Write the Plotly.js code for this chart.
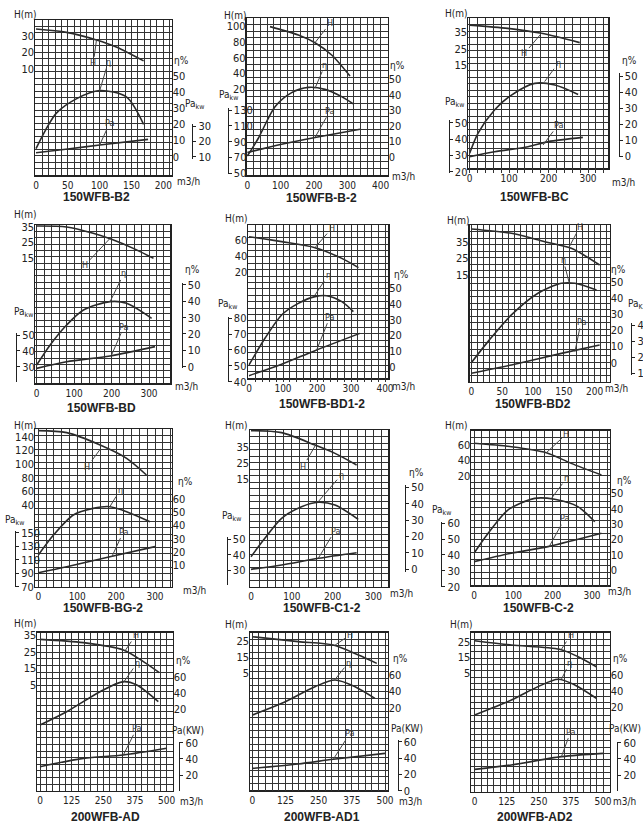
<!DOCTYPE html>
<html><head><meta charset="utf-8">
<script src="https://cdn.plot.ly/plotly-3.0.1.min.js"></script>
<style>html,body{margin:0;padding:0;background:#fff}#c{width:643px;height:834px}</style>
</head><body><div id="c"></div>
<script>
// ---------- DATA ----------
const titles = ['150WFB-B2','150WFB-B-2','150WFB-BC','150WFB-BD','150WFB-BD1-2','150WFB-BD2',
  '150WFB-BG-2','150WFB-C1-2','150WFB-C-2','200WFB-AD','200WFB-AD1','200WFB-AD2'];

const headQ = [[0,48,95,127,169],[68,153,203,253,308],[0,97,182,279],[0,80,151,200,258,312],
  [0,96,194,273,322],[0,65,119,162,208],[0,73,159,227,278],[0,75,157,206,259],
  [0,95,184,247,324],[0,171,329,408,471],[0,173,305,400,469],[0,143,331,403,474]];
const headH = [[34.2,32.2,27.6,23.2,14.9],[99.2,88.6,78.9,63.4,36.8],[39.4,37.4,34.4,28.7],
  [35.4,34.8,30.8,27,21.3,15],[64.2,57.9,50.3,36.8,25.1],[42.6,40,35,31,21],
  [148.8,145.9,127.8,108.3,83.9],[44.8,43.6,36,30.9,23.8],[62.2,57.8,50.1,36.3,21.3],
  [32.4,30.4,26,19,12.4],[27.4,24.4,22.3,16.2,11.1],[25.6,22.9,20.2,15.5,9.2]];

const effQ = [[0,15,32,64,100,142,169],[0,33,83,133,183,233,283,318],[0,21,63,106,165,216,275],
  [0,36,80,125,196,240,307],[0,47,96,145,194,228,273,307],[0,27,65,108,146,168,203],
  [0,39,90,141,184,227,287],[0,34,75,124,165,206,263],[0,36,86,154,205,264,307],
  [0,105,237,329,382,467],[0,111,236,312,387,462],[0,143,247,325,390,474]];
const effEta = [[5,16.5,27,36,41,37,20],[0.4,11.9,32.3,41.4,44.8,43.5,38.8,34.1],
  [1.7,14.2,28.8,38.1,45.4,44.4,38.5],[1,13.3,25.5,34.7,39.8,38.8,29.6],
  [1.1,18.1,33,40.4,44.7,45.3,41.5,35.1],[0,13.1,29.7,43.2,49.4,49.4,45.2],
  [17.6,32.8,48.1,53.1,54.4,50.6,43],[7.7,18.9,31.1,38.2,40.9,39.2,30.5],
  [10.9,23.9,39.1,46.7,46.1,41.3,31.5],[0.8,17.1,41.6,53.9,49.8,29.4],
  [11,25.3,45.7,53.9,45.7,31.4],[10.6,29.1,45.6,54.7,47.7,31.2]];

const powQ = [[0,50,100,176],[0,103,203,338],[0,63,148,199,287],[0,80,196,316],[0,96,194,326],
  [0,65,146,208],[0,73,184,300],[0,75,165,259],[0,95,188,324],[0,171,329,500],[0,173,305,500],[0,143,338,500]];
const powP = [[12.6,15,17.6,21.3],[76.3,86.8,95.3,105.8],[29.2,32.2,35.3,38.4,41.0],[29,33.2,36.8,42.7],
  [43.8,51,59.6,70.5],[10,15.2,22.4,27.6],[90.7,99.6,114.4,129.3],[30.7,33.5,37.8,41.4],
  [35.8,41.1,45.3,53.7],[30.6,40.8,44.9,53.1],[27.3,32.7,38.4,45.7],[27.3,32.7,42.9,46.9]];

// leader lines: [Q on curve, value on curve, Q at label, value at label]
const leadH = [[95,27.6,90,13.4],[203,78.9,248,103.4],[182,34.4,139,22.1],[196,27.6,129,10.8],
  [194,50.3,243,74.7],[159,32,176,44],[159,121.5,126,96.1],[157,35.4,128,22.8],
  [184,50.1,235,74.2],[336,25.6,378,35],[312,22.3,368,28.5],[338,20.2,374,29.2]];
const leadE = [[100,40.9,113.6,58.9],[203,44.2,233,59.3],[190,46.5,224,57.9],[196,39.8,233,57.1],
  [194,45.7,233,58.5],[159,49.4,149,63.9],[184,54.4,210,67.1],[165,41.3,221,57.5],
  [197,46.7,235,59.8],[329,52.7,384,77.1],[312,54.7,362,75.1],[338,54.7,370,75.2]];
const leadP = [[100,17.6,116,32.2],[203,95.3,248,128.9],[186,36.3,224,48.6],[200,37.4,233,55.2],
  [199,60,238,81],[168,23.4,178,42],[189,114.4,219,151.5],[165,37.8,206,55.6],
  [192,45.7,231,63.2],[329,44.9,382,77.6],[305,38.4,368,70.2],[338,42.9,374,73.5]];

const xTicks = [[0,50,100,150,200],[0,100,200,300,400],[0,100,200,300],[0,100,200,300],[0,100,200,300,400],
  [0,50,100,150,200],[0,100,200,300],[0,100,200,300],[0,100,200,300],[0,125,250,375,500],[0,125,250,375,500],[0,125,250,375,500]];
const hTicks = [[10,20,30],[20,40,60,80,100],[15,25,35],[15,25,35],[20,40,60],[15,25,35],
  [40,60,80,100,120,140],[15,25,35],[20,40,60],[5,15,25,35],[5,15,25],[5,15,25]];
const etaTicks = [[0,10,20,30,40,50],[0,10,20,30,40,50],[0,10,20,30,40,50],[0,10,20,30,40,50],
  [0,10,20,30,40,50],[0,10,20,30,40,50],[10,20,30,40,50,60],[0,10,20,30,40,50],[0,10,20,30,40,50],
  [20,40,60],[20,40,60],[20,40,60]];
const pTicks = [[10,20,30],[50,70,90,110,130],[20,30,40,50],[20,30,40,50],[40,50,60,70,80],[10,20,30,40],
  [70,90,110,130,150],[20,30,40,50],[20,30,40,50,60],[0,20,40,60],[0,20,40,60],[0,20,40,60]];
const pLabels = ['Pa<sub>kw</sub>','Pa<sub>kw</sub>','Pa<sub>kw</sub>','Pa<sub>kw</sub>','Pa<sub>kw</sub>','Pa<sub>K</sub>',
  'Pa<sub>kw</sub>','Pa<sub>kw</sub>','Pa<sub>kw</sub>','Pa(KW)','Pa(KW)','Pa(KW)'];

// ---------- GEOMETRY (reference crop coords, 3x, relative to panel origin) ----------
const geom = [
 {o:[0,0],r:[105,515,60,525],x:[[0,108],[200,490]],step:10,h:[[30,108],[10,207]],e:[[50,228],[0,470]],eb:null,p:[[30,378],[10,470]],pb:[577,372,478],L:{H:[75,42],E:[545,182],P:[585,314],Q:[565,545],T:[290,592]}},
 {o:[215,0],r:[95,518,55,525],x:[[0,97],[400,497]],step:20,h:[[100,78],[20,268]],e:[[50,238],[0,470]],eb:null,p:[[130,330],[50,520]],pb:[38,325,522],L:{H:[62,45],E:[548,198],P:[40,288],Q:[565,530],T:[320,594]}},
 {o:[428,0],r:[120,540,55,505],x:[[0,125],[300,480]],step:20,h:[[35,97],[15,195]],e:[[50,228],[0,468]],eb:[572,220,472],p:[[50,368],[20,515]],pb:[62,360,520],L:{H:[85,40],E:[603,182],P:[80,308],Q:[585,548],T:[320,592]}},
 {o:[0,205],r:[105,510,60,535],x:[[0,110],[300,447]],step:20,h:[[35,65],[15,160]],e:[[50,240],[0,485]],eb:[545,233,490],p:[[50,390],[20,533]],pb:[48,385,530],L:{H:[75,30],E:[578,193],P:[70,323],Q:[560,545],T:[305,608]}},
 {o:[215,205],r:[100,520,60,520],x:[[0,102],[400,510]],step:20,h:[[60,105],[20,200]],e:[[50,250],[0,485]],eb:null,p:[[80,340],[40,530]],pb:[38,335,530],L:{H:[65,40],E:[558,210],P:[38,300],Q:[565,545],T:[320,598]}},
 {o:[428,205],r:[125,545,60,530],x:[[0,130],[200,500]],step:10,h:[[35,110],[15,210]],e:[[50,232],[0,473]],eb:null,p:[[40,360],[10,505]],pb:[610,355,510],L:{H:[92,45],E:[570,193],P:[625,300],Q:[565,550],T:[315,597]}},
 {o:[0,410],r:[105,515,58,530],x:[[0,115],[300,465]],step:20,h:[[140,80],[40,285]],e:[[60,268],[10,465]],eb:null,p:[[150,368],[70,530]],pb:[45,362,532],L:{H:[75,45],E:[557,215],P:[42,330],Q:[585,540],T:[310,595]}},
 {o:[215,410],r:[105,520,60,530],x:[[0,108],[300,475]],step:20,h:[[35,110],[15,208]],e:[[50,232],[0,478]],eb:[570,225,485],p:[[50,388],[20,528]],pb:[35,380,525],L:{H:[65,45],E:[603,188],P:[50,320],Q:[560,550],T:[320,595]}},
 {o:[428,410],r:[130,545,62,525],x:[[0,138],[300,492]],step:20,h:[[60,105],[20,198]],e:[[50,250],[0,480]],eb:null,p:[[60,340],[20,530]],pb:[40,335,530],L:{H:[85,45],E:[588,210],P:[40,300],Q:[575,545],T:[330,593]}},
 {o:[0,620],r:[112,518,38,512],x:[[0,120],[500,500]],step:25,h:[[35,45],[5,195]],e:[[60,170],[20,268]],eb:null,p:[[60,368],[0,515]],pb:[538,365,512],L:{H:[75,9],E:[550,120],P:[565,330],Q:[575,545],T:[315,590]}},
 {o:[215,620],r:[105,518,38,510],x:[[0,112],[500,510]],step:25,h:[[25,62],[5,160]],e:[[60,165],[20,263]],eb:null,p:[[60,365],[0,512]],pb:[548,360,512],L:{H:[65,12],E:[555,115],P:[575,325],Q:[585,545],T:[320,590]}},
 {o:[428,620],r:[130,545,38,515],x:[[0,140],[500,525]],step:25,h:[[25,65],[5,160]],e:[[60,165],[20,262]],eb:null,p:[[60,368],[0,515]],pb:[568,365,512],L:{H:[100,12],E:[578,115],P:[590,325],Q:[590,545],T:[320,592]}}
];

// ---------- BUILD ----------
const W=643, HH=834, CELL=6.45;
const GRID='#333', LINE='#222', CURVE='#2a2a2a';
const tickFont={family:'"Liberation Sans Narrow","DejaVu Sans Condensed",sans-serif',size:11,color:'#222'};
const xTickFont={family:'"Liberation Sans Narrow","DejaVu Sans Condensed",sans-serif',size:10,color:'#222'};
const labFont={family:'"Liberation Sans Narrow","DejaVu Sans Condensed",sans-serif',size:10,color:'#222'};
const smallFont={family:'"Liberation Sans Narrow","DejaVu Sans Condensed",sans-serif',size:9,color:'#333'};
const titleFont={family:'"Liberation Sans",Arial,sans-serif',size:12,color:'#222'};
function lin(ref,z){const [[v1,z1],[v2,z2]]=ref;return v1+(z-z1)*(v2-v1)/(z2-z1);}
const layout={width:W,height:HH,margin:{l:0,r:0,t:0,b:0},paper_bgcolor:'#fff',plot_bgcolor:'rgba(0,0,0,0)',
  showlegend:false,annotations:[],hovermode:false};
const traces=[];
const yid=n=>n===1?'y':'y'+n, ykey=n=>n===1?'yaxis':'yaxis'+n;

geom.forEach((g,i)=>{
  const k=i+1, [ox,oy]=g.o;
  const X=z=>ox+z/3, Y=z=>oy+z/3;
  const [l,r,t,b]=g.r;
  const xd=[X(l)/W,X(r)/W], yd=[1-Y(b)/HH,1-Y(t)/HH];
  const xid=k===1?'x':'x'+k, xkey=k===1?'xaxis':'xaxis'+k;
  const nG=4*i+1,nH=4*i+2,nE=4*i+3,nP=4*i+4;
  const xr=[lin(g.x,l),lin(g.x,r)];
  layout[xkey]={domain:xd,range:xr,anchor:yid(nG),tickmode:'array',tickvals:xTicks[i],
    showgrid:true,gridcolor:GRID,gridwidth:1,
    minor:{tickmode:'linear',tick0:0,dtick:g.step,showgrid:true,gridcolor:GRID,gridwidth:1,ticks:''},
    zeroline:false,showline:true,mirror:true,linecolor:LINE,linewidth:1.5,ticks:'',tickfont:xTickFont,fixedrange:true};
  const hPx=(b-t)/3, rows=Math.round(hPx/CELL), dt=hPx/rows;
  layout[ykey(nG)]={domain:yd,range:[0,hPx],anchor:xid,tickmode:'linear',tick0:0,dtick:dt,showticklabels:false,
    showgrid:true,gridcolor:GRID,gridwidth:1,zeroline:false,showline:true,mirror:true,linecolor:LINE,linewidth:1.5,ticks:'',fixedrange:true};
  layout[ykey(nH)]={domain:yd,range:[lin(g.h,b),lin(g.h,t)],anchor:xid,side:'left',tickmode:'array',tickvals:hTicks[i],
    showgrid:false,zeroline:false,showline:false,ticks:'',tickfont:tickFont,fixedrange:true};
  function sideAxis(ref,br,tv){
    if(br){return {domain:[1-Y(br[2])/HH,1-Y(br[1])/HH],range:[lin(ref,br[2]),lin(ref,br[1])],anchor:'free',
      position:Math.min(1,X(br[0])/W),side:'right',tickmode:'array',tickvals:tv,showgrid:false,zeroline:false,showline:true,
      linecolor:LINE,linewidth:1,ticks:'outside',ticklen:3,tickcolor:LINE,tickfont:tickFont,fixedrange:true};}
    return {domain:yd,range:[lin(ref,b),lin(ref,t)],anchor:xid,side:'right',tickmode:'array',tickvals:tv,
      showgrid:false,zeroline:false,showline:false,ticks:'',tickfont:tickFont,fixedrange:true};
  }
  layout[ykey(nE)]=sideAxis(g.e,g.eb,etaTicks[i]);
  layout[ykey(nP)]=sideAxis(g.p,g.pb,pTicks[i]);
  // invisible trace so that the grid subplot exists
  traces.push({x:[xr[0]],y:[0],xaxis:xid,yaxis:yid(nG),mode:'markers',marker:{opacity:0,size:1},hoverinfo:'skip'});
  const ln={color:CURVE,width:1.6,shape:'spline',smoothing:0.8};
  traces.push({x:headQ[i],y:headH[i],xaxis:xid,yaxis:yid(nH),mode:'lines',line:ln,hoverinfo:'skip'});
  traces.push({x:effQ[i],y:effEta[i],xaxis:xid,yaxis:yid(nE),mode:'lines',line:ln,hoverinfo:'skip'});
  traces.push({x:powQ[i],y:powP[i],xaxis:xid,yaxis:yid(nP),mode:'lines',line:ln,hoverinfo:'skip'});
  [[leadH[i],nH,'H'],[leadE[i],nE,'η'],[leadP[i],nP,'Pa']].forEach(([d,n,txt])=>{
    layout.annotations.push({x:d[0],y:d[1],xref:xid,yref:yid(n),ax:d[2],ay:d[3],axref:xid,ayref:yid(n),
      text:txt,showarrow:true,arrowhead:0,arrowwidth:1,arrowcolor:'#444',font:smallFont});
  });
  const pa=(p,txt,f)=>layout.annotations.push({x:X(p[0])/W,y:1-Y(p[1])/HH,xref:'paper',yref:'paper',
    text:txt,showarrow:false,font:f,xanchor:'center',yanchor:'middle'});
  pa(g.L.H,'H(m)',labFont);
  pa(g.L.E,'η%',labFont);
  pa(g.L.P,pLabels[i],labFont);
  pa(g.L.Q,'m3/h',labFont);
  pa(g.L.T,'<b>'+titles[i]+'</b>',titleFont);
});

Plotly.newPlot('c',traces,layout,{staticPlot:true,displayModeBar:false});
</script>
</body></html>
